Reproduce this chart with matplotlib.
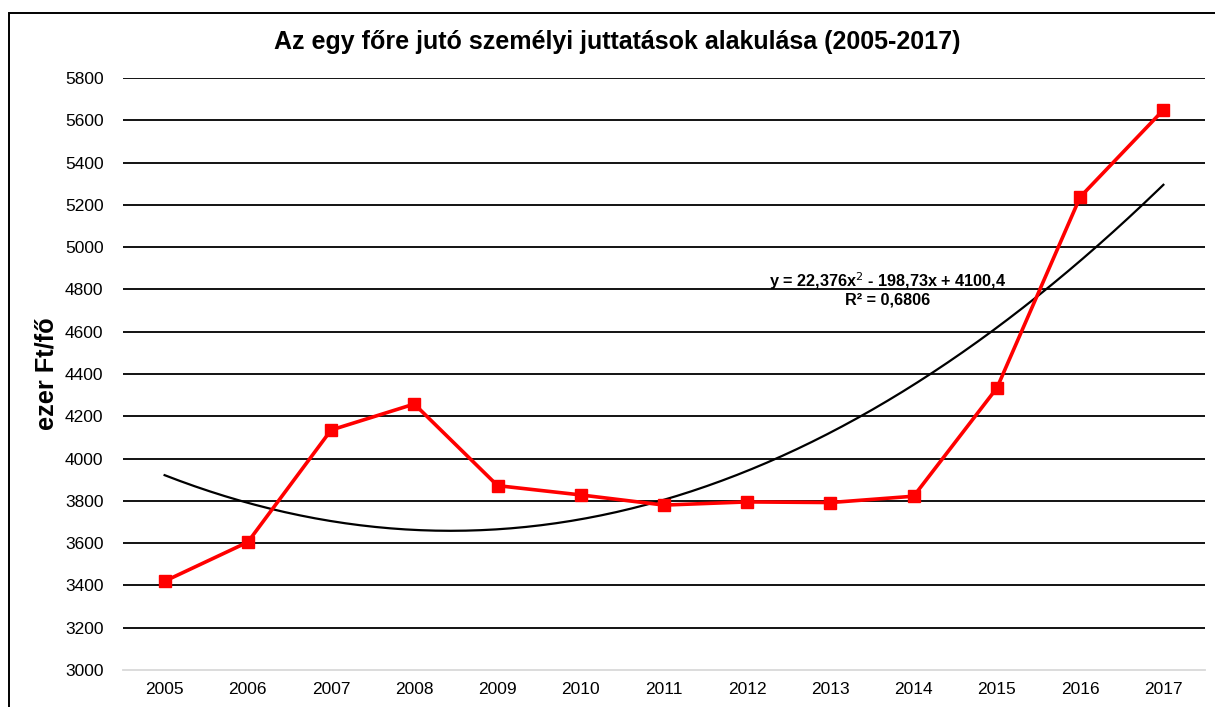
import numpy as np
import matplotlib
matplotlib.use("Agg")
import matplotlib.pyplot as plt
from matplotlib.patches import Rectangle

# data (ezer Ft/fő)
years = ["2005", "2006", "2007", "2008", "2009", "2010", "2011",
         "2012", "2013", "2014", "2015", "2016", "2017"]
values = [3420, 3605, 4135, 4258, 3872, 3828, 3780,
          3795, 3792, 3822, 4334, 5237, 5649]
y_ticks = list(range(3000, 5801, 200))

title = "Az egy főre jutó személyi juttatások alakulása (2005-2017)"
ylabel = "ezer Ft/fő"
eq_text = "y = 22,376x$^2$ - 198,73x + 4100,4\nR² = 0,6806"

plt.rcParams["font.family"] = ["Liberation Sans", "DejaVu Sans"]

fig = plt.figure(figsize=(12.15, 7.07), dpi=100)
ax = fig.add_axes([123 / 1215, 1 - 670 / 707, 1082 / 1215, 592 / 707])

x = np.arange(1, len(years) + 1)

# polynomial (2nd order) trendline, like Excel's
coef = np.polyfit(x, values, 2)
xs = np.linspace(1, len(years), 200)
ax.plot(xs, np.polyval(coef, xs), color="black", lw=1.6, zorder=3)

ax.plot(x, values, color="#ff0000", lw=2.6, marker="s", markersize=8.5,
        markerfacecolor="#ff0000", markeredgecolor="#ff0000", zorder=4)

ax.set_xlim(0.5, len(years) + 0.5)
ax.set_ylim(3000, 5800)
ax.set_xticks(x)
ax.set_xticklabels(years)
ax.set_yticks(y_ticks)
ax.tick_params(length=0, labelsize=12.5, pad=9)
ax.tick_params(axis="y", pad=14)

for yt in y_ticks[1:]:
    ax.axhline(yt, color="black", lw=1.3, zorder=1)
for s in ["top", "right", "left"]:
    ax.spines[s].set_visible(False)
ax.spines["bottom"].set_color("#d9d9d9")
ax.spines["bottom"].set_linewidth(1.3)

ax.text(888 / 1215, 1 - 289 / 707, eq_text, transform=fig.transFigure,
        ha="center", va="center", fontsize=11.7, fontweight="bold",
        linespacing=1.0)

fig.text(617 / 1215, 1 - 42 / 707, title, ha="center", va="center",
         fontsize=18, fontweight="bold")
fig.text(46 / 1215, 1 - 374 / 707, ylabel, ha="center", va="center",
         rotation=90, fontsize=18.3, fontweight="bold")

# outer chart frame (cut off at right/bottom like in the screenshot)
fig.patches.append(Rectangle((8.5 / 1215, -0.05), 1.2, 1.05 - 12.5 / 707,
                             transform=fig.transFigure, fill=False,
                             edgecolor="black", lw=1.4))

fig.savefig("out.png", dpi=100)
